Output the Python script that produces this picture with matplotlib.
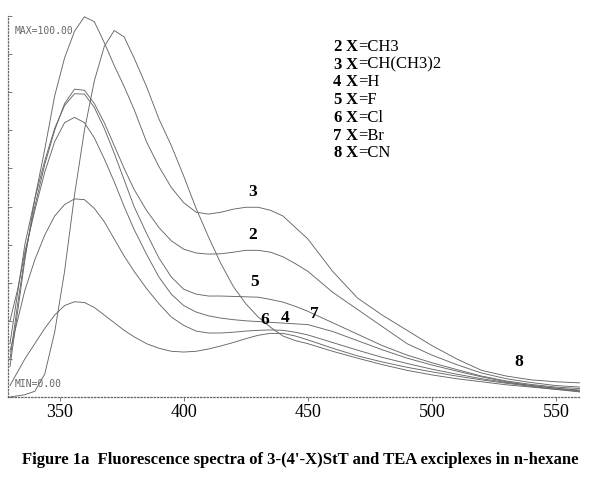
import matplotlib
matplotlib.use("Agg")
import matplotlib.pyplot as plt

# wavelength grid (nm) and intensities
wl = [330, 333, 336, 340, 344, 348, 352, 356, 360, 364, 368, 372, 376, 380,
      385, 390, 395, 400, 405, 410, 415, 420, 425, 430, 435, 440, 445, 450,
      460, 470, 480, 490, 500, 510, 520, 530, 540, 550, 560]

s3 = [8, 22, 36, 52, 65, 79, 89, 96, 99.8, 98.5, 93, 87, 81.5, 75.5,
      67, 60.5, 55, 51, 48.5, 48, 48.5, 49.3, 49.8, 49.8, 49, 47.5, 44.5, 41.5,
      33, 26, 21.5, 17.5, 13.5, 10, 7, 5.5, 4.5, 4, 3.7]
s8 = [0, 0.3, 0.6, 1.5, 6, 17, 33, 53, 70, 83, 92, 96.2, 94.5, 89,
      81.5, 73, 66, 58, 49.5, 42, 35, 29, 24.5, 21, 18.3, 16, 14.8, 14,
      12, 10.2, 8.5, 7, 5.8, 4.8, 4, 3.2, 2.6, 2, 1.5]
s2 = [10, 24, 37, 50, 61, 70, 77, 80.8, 80.5, 77, 72, 66, 60, 54.5,
      49, 44.5, 41, 38.8, 37.8, 37.5, 37.6, 38, 38.5, 38.5, 38, 36.8, 35, 33,
      27.5, 23, 18.5, 14, 11, 8.5, 6.3, 4.8, 3.8, 3, 2.6]
s5 = [14, 27, 40, 52, 62, 70.5, 76.5, 79.6, 79.5, 76, 70.5, 64, 57, 50,
      43, 36.5, 31.5, 28.3, 27, 26.5, 26.5, 26.4, 26.3, 26.2, 25.6, 24.9, 23.8, 22.5,
      19.5, 16.5, 13.5, 11, 9, 7.2, 5.5, 4.2, 3.3, 2.6, 2.2]
s7 = [20, 28, 38, 49, 59, 67, 72, 73.4, 72, 68, 62.5, 56.5, 50, 44,
      37.5, 31.5, 27, 24, 22.3, 21.3, 20.7, 20.3, 20, 19.8, 19.6, 19.4, 19.2, 19,
      17.2, 14.8, 12.4, 10.2, 8.4, 6.8, 5.3, 4, 3, 2.3, 1.8]
s4 = [12, 20, 28, 36, 42.5, 47.5, 50.5, 52, 51.8, 49.5, 46, 41.5, 37, 33,
      28.5, 24.5, 21, 18.8, 17.3, 16.8, 16.8, 17, 17.3, 17.5, 17.6, 17.5, 17, 16.3,
      14.3, 12.3, 10.4, 8.8, 7.3, 6, 4.8, 3.8, 3, 2.3, 1.6]
s6 = [3, 6.5, 10, 14, 18, 21.5, 24, 25, 24.8, 23.5, 21.5, 19.5, 17.5, 15.8,
      14, 12.8, 12, 11.8, 12, 12.6, 13.4, 14.3, 15.3, 16.2, 16.7, 16.7, 16, 15,
      12.8, 10.8, 9.2, 7.8, 6.6, 5.5, 4.5, 3.6, 2.8, 2, 1.3]

curve_labels = ['3', '2', '5', '6', '4', '7', '8']
label_x = [427.8, 427.8, 428.6, 432.7, 440.7, 452.8, 535]
label_y = [51.7, 40.4, 28.0, 18.1, 18.6, 19.7, 7.1]

legend_nums = ['2', '3', '4', '5', '6', '7', '8']
legend_subs = ['=CH3', '=CH(CH3)2', '=H', '=F', '=Cl', '=Br', '=CN']

fig = plt.figure(figsize=(6, 4.79), dpi=100)
ax = fig.add_axes([8/600, 82/479, 572/600, 381/479])

for s in (s3, s8, s2, s5, s7, s4, s6):
    ax.plot(wl, s, color='0.4', lw=0.65)

ax.set_xlim(329.2, 559.7)
ax.set_ylim(0, 100)
ax.set_xticks([350, 400, 450, 500, 550])
ax.set_yticks(range(0, 101, 10))
ax.set_yticklabels([])
ax.tick_params(axis='y', direction='in', length=3, width=0.6, color='0.4')
ax.tick_params(axis='x', direction='out', length=3, width=0.6, color='0.4',
               labelsize=13, pad=2)
for lab in ax.get_xticklabels():
    lab.set_family('Liberation Serif')
for sp in ('top', 'right'):
    ax.spines[sp].set_visible(False)
for sp in ('left', 'bottom'):
    ax.spines[sp].set_linestyle(':')
    ax.spines[sp].set_color('0.4')
    ax.spines[sp].set_linewidth(0.9)

ax.text(0.012, 0.96, 'MAX=100.00', transform=ax.transAxes, fontsize=7,
        family='DejaVu Sans Mono', color='0.4', va='center')
ax.text(0.012, 0.035, 'MIN=0.00', transform=ax.transAxes, fontsize=7,
        family='DejaVu Sans Mono', color='0.4', va='center')

for t, x, y in zip(curve_labels, label_x, label_y):
    ax.text(x, y, t, fontsize=12.5, fontweight='bold', family='Liberation Serif',
            ha='center', va='bottom')

for i, (n, sub) in enumerate(zip(legend_nums, legend_subs)):
    yy = 1 - (47 + i * 17.7) / 479
    fig.text(333/600, yy, n, fontsize=12, fontweight='bold',
             family='Liberation Serif', va='center')
    fig.text(346/600, yy, 'X', fontsize=12, fontweight='bold',
             family='Liberation Serif', va='center')
    fig.text(358/600, yy, sub, fontsize=12, family='Liberation Serif',
             va='center')

fig.text(0.5, 1 - 460/479,
         "Figure 1a  Fluorescence spectra of 3-(4'-X)StT and TEA exciplexes in n-hexane",
         ha='center', va='center', fontsize=12, fontweight='bold',
         family='Liberation Serif')

fig.savefig('out.png', dpi=100)
